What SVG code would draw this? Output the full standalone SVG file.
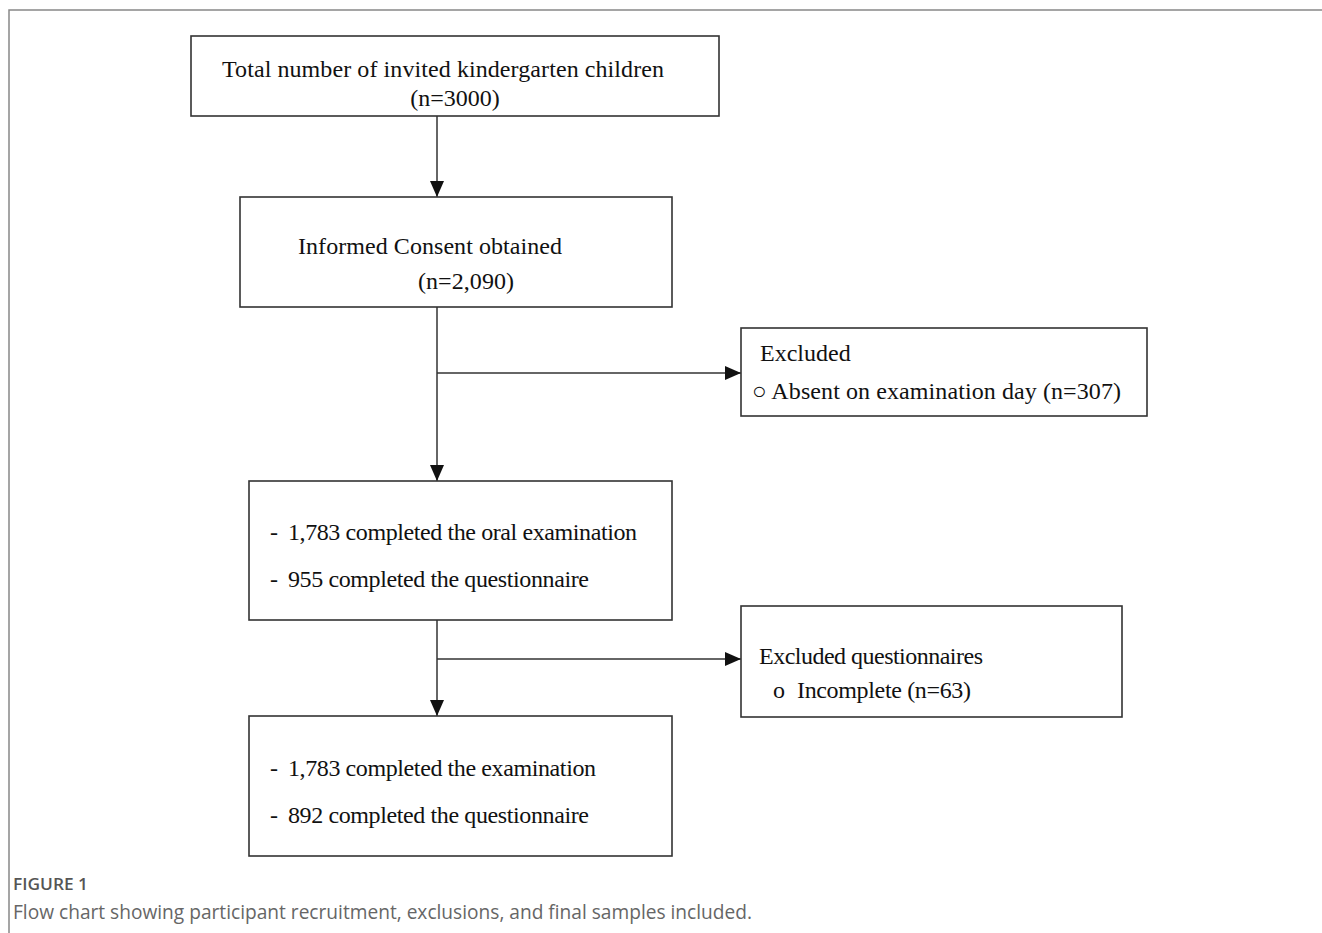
<svg xmlns="http://www.w3.org/2000/svg" width="1322" height="933" viewBox="0 0 1322 933">
<style>
.box{fill:#fff;stroke:#333;stroke-width:1.6}
.t{font-family:"Liberation Serif","Times New Roman",serif;font-size:24px;fill:#111}
.ln{fill:none;stroke:#333;stroke-width:1.5}
.cap1{font-family:"Open Sans","Noto Sans",sans-serif;font-size:16px;font-weight:600;fill:#555}
.cap2{font-family:"Open Sans","Noto Sans",sans-serif;font-size:20px;fill:#666}
</style>
<defs>
<marker id="ah" markerUnits="userSpaceOnUse" markerWidth="16" markerHeight="14" refX="16" refY="7" orient="auto">
<path d="M0,0 L16,7 L0,14 Z" fill="#111"/>
</marker>
</defs>
<rect width="1322" height="933" fill="#fff"/>
<path d="M9,933 V10 H1322" fill="none" stroke="#888" stroke-width="1.5"/>
<g id="connectors">
<line class="ln" x1="437" y1="116" x2="437" y2="197" marker-end="url(#ah)"/>
<line class="ln" x1="437" y1="307" x2="437" y2="481" marker-end="url(#ah)"/>
<line class="ln" x1="437" y1="373" x2="741" y2="373" marker-end="url(#ah)"/>
<line class="ln" x1="437" y1="620" x2="437" y2="716" marker-end="url(#ah)"/>
<line class="ln" x1="437" y1="659" x2="741" y2="659" marker-end="url(#ah)"/>
</g>
<g id="n1">
<rect class="box" x="191" y="36" width="528" height="80"/>
<text class="t" x="222" y="77" textLength="442" lengthAdjust="spacing">Total number of invited kindergarten children</text>
<text class="t" x="455" y="106" text-anchor="middle">(n=3000)</text>
</g>
<g id="n2">
<rect class="box" x="240" y="197" width="432" height="110"/>
<text class="t" x="298" y="254" textLength="264" lengthAdjust="spacing">Informed Consent obtained</text>
<text class="t" x="418" y="289" textLength="96" lengthAdjust="spacing">(n=2,090)</text>
</g>
<g id="n3">
<rect class="box" x="741" y="328" width="406" height="88"/>
<text class="t" x="760" y="361">Excluded</text>
<text class="t" x="752" y="399" textLength="369" lengthAdjust="spacing">○ Absent on examination day (n=307)</text>
</g>
<g id="n4">
<rect class="box" x="249" y="481" width="423" height="139"/>
<text class="t" x="270" y="540">-</text>
<text class="t" x="288" y="540" textLength="349" lengthAdjust="spacing">1,783 completed the oral examination</text>
<text class="t" x="270" y="587">-</text>
<text class="t" x="288" y="587" textLength="301" lengthAdjust="spacing">955 completed the questionnaire</text>
</g>
<g id="n5">
<rect class="box" x="741" y="606" width="381" height="111"/>
<text class="t" x="759" y="664" textLength="224" lengthAdjust="spacing">Excluded questionnaires</text>
<text class="t" x="773" y="698">o</text>
<text class="t" x="797" y="698" textLength="174" lengthAdjust="spacing">Incomplete (n=63)</text>
</g>
<g id="n6">
<rect class="box" x="249" y="716" width="423" height="140"/>
<text class="t" x="270" y="776">-</text>
<text class="t" x="288" y="776" textLength="308" lengthAdjust="spacing">1,783 completed the examination</text>
<text class="t" x="270" y="823">-</text>
<text class="t" x="288" y="823" textLength="301" lengthAdjust="spacing">892 completed the questionnaire</text>
</g>
<text class="cap1" x="13" y="890" textLength="75" lengthAdjust="spacingAndGlyphs">FIGURE 1</text>
<text class="cap2" x="13" y="919" textLength="739" lengthAdjust="spacingAndGlyphs">Flow chart showing participant recruitment, exclusions, and final samples included.</text>
</svg>
